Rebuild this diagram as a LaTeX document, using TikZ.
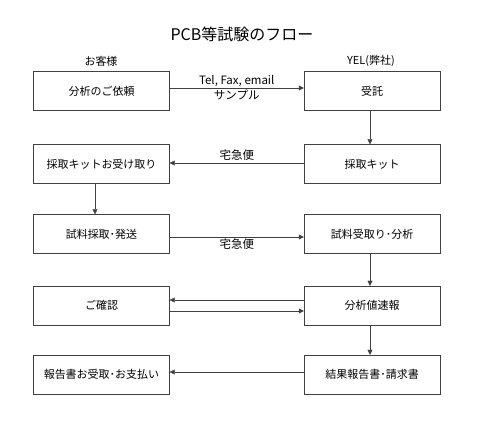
\documentclass[tikz,border=0pt]{standalone}
\usepackage{fontspec}
\setmainfont{Noto Sans CJK JP}
\usetikzlibrary{arrows.meta}
\begin{document}
\begin{tikzpicture}[x=1pt,y=-1pt,font=\fontsize{11}{13}\selectfont,
    box/.style={draw=black!75,minimum width=136pt,minimum height=39pt,inner sep=0pt},
    flow/.style={draw=black!75,-{Triangle[length=5pt,width=5pt]}},
    lbl/.style={font=\fontsize{11.5}{13}\selectfont,inner sep=2pt}]
    \useasboundingbox (0,0) rectangle (480,422);
    \node[font=\fontsize{16}{18}\selectfont] (title) at (242,34) {PCB等試験のフロー};
    \node (cust) at (101,61) {お客様};
    \node (yel) at (371,61) {YEL(弊社)};
    \foreach \n/\y/\l/\r in {1/91/分析のご依頼/受託, 2/164/採取キットお受け取り/採取キット,
                             3/234/試料採取･発送/試料受取り･分析, 4/305.5/ご確認/分析値速報,
                             5/374.5/報告書お受取･お支払い/結果報告書･請求書}
      {\node[box] (l\n) at (101.5,\y) {\l};
       \node[box] (r\n) at (372,\y) {\r};}
    \draw[flow] ([yshift=3pt]l1.east) -- ([yshift=3pt]r1.west)
      node[midway,above,lbl,inner sep=1pt] {Tel, Fax, email} node[midway,below,lbl] {サンプル};
    \draw[flow] ([xshift=-2pt]r1.south) -- ([xshift=-2pt]r2.north);
    \draw[flow] ([yshift=1pt]r2.west) -- ([yshift=1pt]l2.east) node[midway,above,lbl] {宅急便};
    \draw[flow] ([xshift=-6.5pt]l2.south) -- ([xshift=-6.5pt]l3.north);
    \draw[flow] ([yshift=-3pt]l3.east) -- ([yshift=-3pt]r3.west) node[midway,below,lbl] {宅急便};
    \draw[flow] ([xshift=-2pt]r3.south) -- ([xshift=-2pt]r4.north);
    \draw[flow] ([yshift=5.5pt]r4.west) -- ([yshift=5.5pt]l4.east);
    \draw[flow] ([yshift=-5.5pt]l4.east) -- ([yshift=-5.5pt]r4.west);
    \draw[flow] ([xshift=-2pt]r4.south) -- ([xshift=-2pt]r5.north);
    \draw[flow] ([yshift=2.5pt]r5.west) -- ([yshift=2.5pt]l5.east);
\end{tikzpicture}
\end{document}
